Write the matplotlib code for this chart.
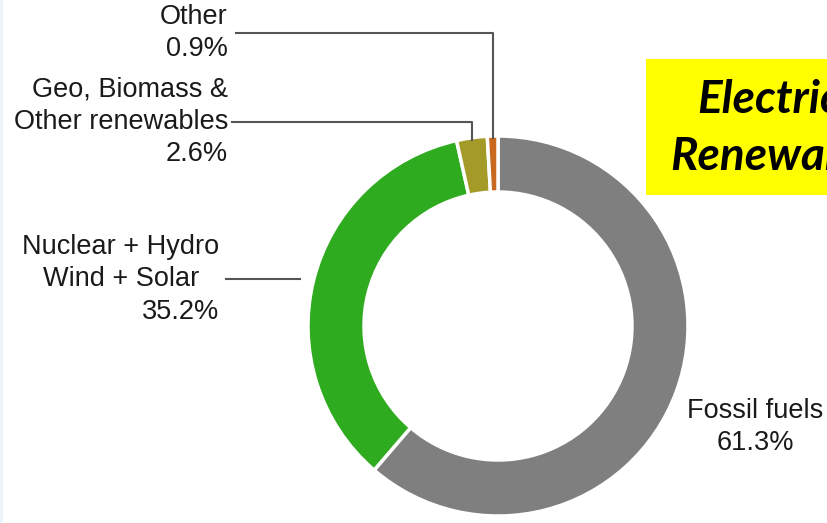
import numpy as np
import matplotlib.pyplot as plt

sources = ["Fossil fuels", "Nuclear + Hydro\nWind + Solar",
           "Geo, Biomass &\nOther renewables", "Other"]
shares = [61.3, 35.2, 2.6, 0.9]
colors = ["#7f7f7f", "#2fab1f", "#a39a28", "#c8691f"]

W, H = 828, 523
CX, CY, R, RING = 498, 523 - 326, 190, 56

fig = plt.figure(figsize=(W / 100, H / 100), dpi=100)
ax = fig.add_axes([0, 0, 1, 1])

wedges, _ = ax.pie(shares, colors=colors, startangle=90, counterclock=False,
                   center=(CX, CY), radius=R,
                   wedgeprops=dict(width=RING, edgecolor="white", linewidth=2.5))
ax.set_xlim(0, W)
ax.set_ylim(0, H)
ax.set_aspect("equal")
ax.axis("off")

# thin light strip at the left edge
ax.axvspan(0, 3, color="#eaf4fa", lw=0)


def mid_x(w):
    ang = np.deg2rad((w.theta1 + w.theta2) / 2)
    return CX + R * np.cos(ang)


font = dict(family="Liberation Sans", fontsize=19.5, color="#1a1a1a")
line_kw = dict(color="#555555", lw=1.5)
LS = 1.32

# Other
y = H - 33
ax.text(228, y, f"{sources[3]}\n{shares[3]}%", ha="right", va="center",
        multialignment="right", linespacing=LS, **font)
x = mid_x(wedges[3])
ax.plot([236, x, x], [y, y, CY + R - 2], **line_kw)

# Geo, biomass
y = H - 122
ax.text(228, y, f"{sources[2]}\n{shares[2]}%", ha="right", va="center",
        multialignment="right", linespacing=LS, **font)
x = mid_x(wedges[2])
ax.plot([232, x, x], [y, y, CY + R - 4], **line_kw)

# Nuclear + hydro ...
y = H - 279
ax.text(121, y + 16, sources[1], ha="center", va="center",
        multialignment="center", linespacing=LS, **font)
ax.text(219, y - 33, f"{shares[1]}%", ha="right", va="center", **font)
ax.plot([226, 300], [y, y], **line_kw)

# Fossil fuels
ax.text(755, H - 427, f"{sources[0]}\n{shares[0]}%", ha="center", va="center",
        multialignment="center", linespacing=LS, **font)

# yellow title box, cut off at the right edge
ax.add_patch(plt.Rectangle((646, H - 195), 200, 136, facecolor="#ffff00",
                           edgecolor="none", zorder=3))
title_font = dict(family="Lato", fontsize=33, fontweight="bold",
                  fontstyle="italic", color="black", zorder=4)
ax.text(697, H - 113, "Electricity", ha="left", va="baseline", **title_font)
ax.text(670, H - 170, "Renewables", ha="left", va="baseline", **title_font)

fig.savefig("out.png", dpi=100)
